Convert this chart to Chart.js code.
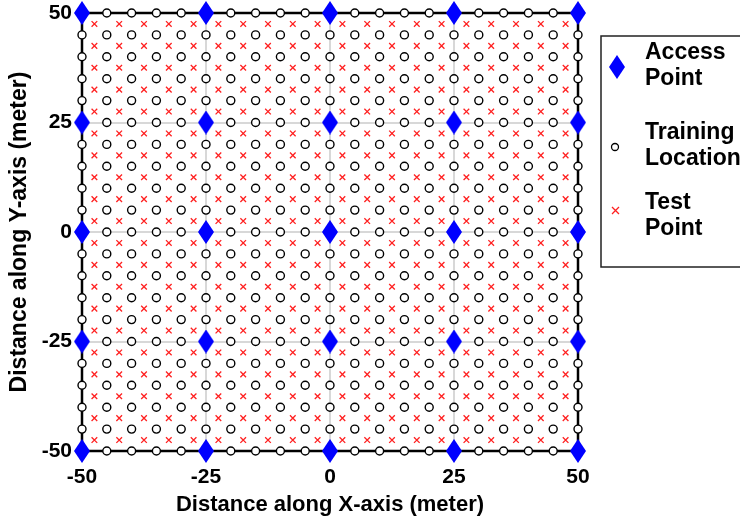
<!DOCTYPE html>
<html>
<head>
<meta charset="utf-8">
<script src="https://cdn.jsdelivr.net/npm/chart.js@4.4.0/dist/chart.umd.min.js"></script>
<style>
  html, body { margin: 0; padding: 0; background: #fff; }
  #wrap { width: 740px; height: 518px; position: relative; }
</style>
</head>
<body>
<div id="wrap"><canvas id="myChart" width="740" height="518"></canvas></div>
<script>
// access points every 25 m
const accessX = [-50, -25, 0, 25, 50];
const accessY = [-50, -25, 0, 25, 50];
// training locations on a 5 m grid
const trainX = [-50, -45, -40, -35, -30, -25, -20, -15, -10, -5, 0, 5, 10, 15, 20, 25, 30, 35, 40, 45, 50];
const trainY = [-50, -45, -40, -35, -30, -25, -20, -15, -10, -5, 0, 5, 10, 15, 20, 25, 30, 35, 40, 45, 50];
// test points in the middle of each 5 m cell
const testX = [-47.5, -42.5, -37.5, -32.5, -27.5, -22.5, -17.5, -12.5, -7.5, -2.5, 2.5, 7.5, 12.5, 17.5, 22.5, 27.5, 32.5, 37.5, 42.5, 47.5];
const testY = [-47.5, -42.5, -37.5, -32.5, -27.5, -22.5, -17.5, -12.5, -7.5, -2.5, 2.5, 7.5, 12.5, 17.5, 22.5, 27.5, 32.5, 37.5, 42.5, 47.5];
const tickValues = [-50, -25, 0, 25, 50];
const legendLabels = [['Access', 'Point'], ['Training', 'Location'], ['Test', 'Point']];

function grid(xs, ys, skip) {
    const pts = [];
    ys.forEach(y => xs.forEach(x => {
        if (skip && skip.x.includes(x) && skip.y.includes(y)) return;
        pts.push({ x, y });
    }));
    return pts;
}

const accessPoints = grid(accessX, accessY);
const trainPoints = grid(trainX, trainY, { x: accessX, y: accessY });
const testPoints = grid(testX, testY);

// tall blue diamond
function makeDiamond(w, h) {
    const c = document.createElement('canvas');
    c.width = w; c.height = h;
    const g = c.getContext('2d');
    g.fillStyle = '#0000ff';
    g.beginPath();
    g.moveTo(w / 2, 0);
    g.lineTo(w, h / 2);
    g.lineTo(w / 2, h);
    g.lineTo(0, h / 2);
    g.closePath();
    g.fill();
    return c;
}
const diamond = makeDiamond(16, 24);

const FONT = "'Liberation Sans', Arial, sans-serif";

const frame = {
    id: 'frame',
    beforeDatasetsDraw(chart) {
        const { ctx, chartArea: a } = chart;
        ctx.save();
        ctx.strokeStyle = '#000';
        ctx.lineWidth = 2.5;
        ctx.strokeRect(a.left, a.top, a.right - a.left, a.bottom - a.top);
        ctx.restore();
    }
};

const legendBox = {
    id: 'legendBox',
    afterDraw(chart) {
        const ctx = chart.ctx;
        ctx.save();
        ctx.fillStyle = '#fff';
        ctx.fillRect(601, 36, 160, 231);
        ctx.strokeStyle = '#222';
        ctx.lineWidth = 1.5;
        ctx.strokeRect(601, 36, 160, 231);

        // markers
        ctx.drawImage(diamond, 609, 55);
        ctx.beginPath();
        ctx.arc(615, 147, 3.5, 0, Math.PI * 2);
        ctx.fillStyle = '#fff';
        ctx.fill();
        ctx.strokeStyle = '#000';
        ctx.lineWidth = 1.3;
        ctx.stroke();
        ctx.beginPath();
        ctx.moveTo(612, 207); ctx.lineTo(619, 214);
        ctx.moveTo(619, 207); ctx.lineTo(612, 214);
        ctx.strokeStyle = '#ff2020';
        ctx.lineWidth = 1.3;
        ctx.stroke();

        // labels
        ctx.fillStyle = '#000';
        ctx.font = 'bold 23px ' + FONT;
        ctx.textBaseline = 'middle';
        ctx.textAlign = 'left';
        const rows = [53, 133, 203];
        legendLabels.forEach((lines, i) => {
            lines.forEach((t, j) => ctx.fillText(t, 645, rows[i] + j * 26));
        });
        ctx.restore();
    }
};

const ctx = document.getElementById('myChart').getContext('2d');
new Chart(ctx, {
    type: 'scatter',
    data: {
        datasets: [
            {
                label: 'Access Point',
                data: accessPoints,
                pointStyle: diamond,
                pointRadius: 10,
                clip: false
            },
            {
                label: 'Training Location',
                data: trainPoints,
                pointStyle: 'circle',
                pointRadius: 4,
                pointBorderWidth: 1.4,
                pointBorderColor: '#000',
                pointBackgroundColor: '#fff',
                clip: false
            },
            {
                label: 'Test Point',
                data: testPoints,
                pointStyle: 'cross',
                rotation: 45,
                pointRadius: 4,
                pointBorderWidth: 1.3,
                pointBorderColor: '#ff2020',
                clip: false
            }
        ]
    },
    options: {
        responsive: false,
        animation: false,
        devicePixelRatio: 1,
        layout: { padding: { top: 13, right: 162, left: 0, bottom: 0 } },
        plugins: {
            legend: { display: false },
            tooltip: { enabled: false }
        },
        scales: {
            x: {
                type: 'linear',
                min: -50,
                max: 50,
                afterBuildTicks: s => { s.ticks = tickValues.map(v => ({ value: v })); },
                afterFit: s => { s.height = 67; s.paddingLeft = 0; s.paddingRight = 0; },
                grid: { color: '#d8d8d8', lineWidth: 2, drawTicks: false },
                border: { display: false },
                ticks: {
                    color: '#000',
                    padding: 14,
                    autoSkip: false,
                    maxRotation: 0,
                    font: { family: FONT, size: 21, weight: 'bold' }
                },
                title: {
                    display: true,
                    text: 'Distance along X-axis (meter)',
                    color: '#000',
                    padding: { top: 0, bottom: 0 },
                    font: { family: FONT, size: 22, weight: 'bold' }
                }
            },
            y: {
                type: 'linear',
                min: -50,
                max: 50,
                afterBuildTicks: s => { s.ticks = tickValues.map(v => ({ value: v })); },
                afterFit: s => { s.width = 82; s.paddingTop = 0; s.paddingBottom = 0; },
                grid: { color: '#d8d8d8', lineWidth: 2, drawTicks: false },
                border: { display: false },
                ticks: {
                    color: '#000',
                    padding: 10,
                    autoSkip: false,
                    font: { family: FONT, size: 21, weight: 'bold' }
                },
                title: {
                    display: true,
                    text: 'Distance along Y-axis (meter)',
                    color: '#000',
                    padding: { top: 6, bottom: 0 },
                    font: { family: FONT, size: 23, weight: 'bold' }
                }
            }
        }
    },
    plugins: [frame, legendBox]
});
</script>
</body>
</html>
